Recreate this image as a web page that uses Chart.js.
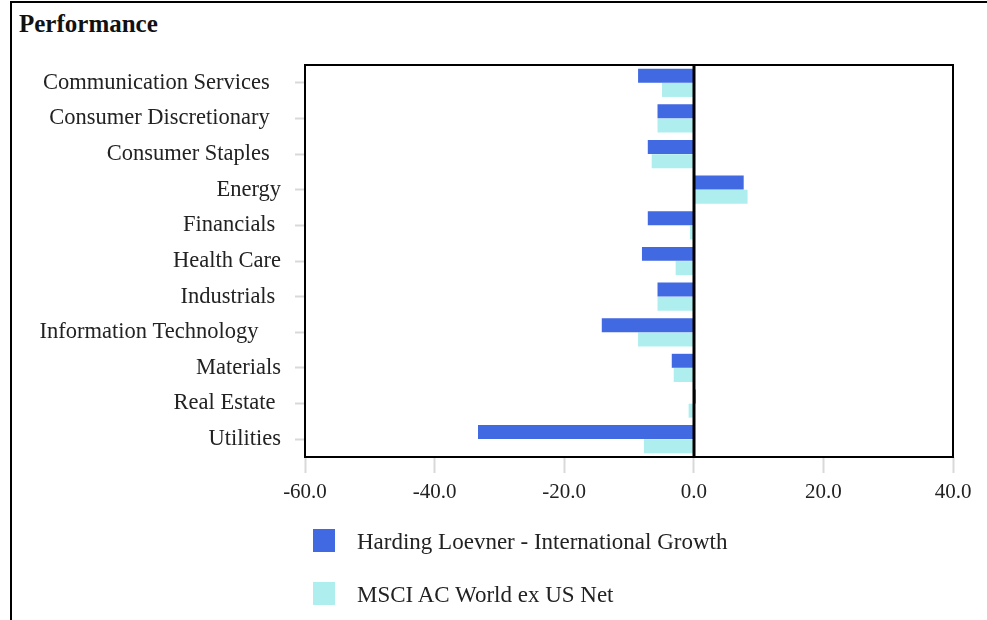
<!DOCTYPE html>
<html>
<head>
<meta charset="utf-8">
<script src="https://cdn.jsdelivr.net/npm/chart.js@4"></script>
<style>
  html, body { margin: 0; padding: 0; background: #fff; overflow: hidden; }
  body { width: 987px; height: 620px; position: relative; font-family: "Liberation Serif", "DejaVu Serif", serif; }
  #frame { position: absolute; left: 10px; top: 1px; width: 1000px; height: 700px; border: 2px solid #000; }
  #title { position: absolute; left: 19px; top: 10px; font-size: 25px; font-weight: bold; color: #111; }
  #wrap { position: absolute; left: 0; top: 0; width: 987px; height: 620px; }
  #legend { position: absolute; left: 313px; top: 529px; font-size: 23px; color: #222; }
  .item { position: relative; height: 24px; margin-bottom: 29px; }
  .box { position: absolute; left: 0; top: 0; width: 22px; height: 23px; }
  .lbl { position: absolute; left: 44px; top: 1px; line-height: 24px; white-space: nowrap; }
</style>
</head>
<body>
<div id="frame"></div>
<div id="title">Performance</div>
<div id="wrap"><canvas id="myChart" width="987" height="620"></canvas></div>
<div id="legend"></div>
<script>
// sectors (trailing spaces kept as in the source labels)
let sectors = [
  'Communication Services  ',
  'Consumer Discretionary  ',
  'Consumer Staples  ',
  'Energy',
  'Financials ',
  'Health Care',
  'Industrials ',
  'Information Technology    ',
  'Materials',
  'Real Estate ',
  'Utilities'
];
let hlGrowth = [-8.6, -5.6, -7.1, 7.7, -7.1, -8.0, -5.6, -14.2, -3.4, 0.3, -33.3];
let msciAcwx = [-4.9, -5.6, -6.5, 8.3, -0.6, -2.8, -5.6, -8.6, -3.1, -0.8, -7.7];
let xTicks = [-60, -40, -20, 0, 20, 40];

let seriesNames = ['Harding Loevner - International Growth', 'MSCI AC World ex US Net'];
let bgColors = ['#4169E1', '#AFEEEE'];

// frame round the plot + the zero line on top of the bars
const boxPlugin = {
  id: 'boxPlugin',
  afterDatasetsDraw(chart) {
    const a = chart.chartArea;
    const c = chart.ctx;
    const x0 = Math.round(chart.scales.x.getPixelForValue(0));
    c.save();
    c.strokeStyle = '#000';
    c.lineWidth = 2;
    c.strokeRect(a.left, a.top, a.right - a.left, a.bottom - a.top);
    c.lineWidth = 3;
    c.beginPath();
    c.moveTo(x0, a.top);
    c.lineTo(x0, a.bottom);
    c.stroke();
    c.restore();
  }
};

const ctx = document.getElementById('myChart').getContext('2d');
const myChart = new Chart(ctx, {
  type: 'bar',
  data: {
    labels: sectors,
    datasets: [
      { label: seriesNames[0], data: hlGrowth, backgroundColor: bgColors[0], borderWidth: 0,
        categoryPercentage: 0.8, barPercentage: 0.98 },
      { label: seriesNames[1], data: msciAcwx, backgroundColor: bgColors[1], borderWidth: 0,
        categoryPercentage: 0.8, barPercentage: 0.98 }
    ]
  },
  plugins: [boxPlugin],
  options: {
    indexAxis: 'y',
    responsive: false,
    animation: false,
    layout: { padding: { left: 0, top: 65, right: 34, bottom: 113 } },
    plugins: {
      legend: { display: false },
      tooltip: { enabled: false },
      title: { display: false }
    },
    scales: {
      x: {
        min: -60,
        max: 40,
        afterBuildTicks(scale) { scale.ticks = xTicks.map(v => ({ value: v })); },
        afterFit(scale) { scale.height = 50; },
        border: { display: false },
        grid: {
          drawOnChartArea: false,
          tickColor: '#d9d9d9',
          tickLength: 16,
          tickWidth: 2
        },
        ticks: {
          color: '#222',
          padding: 7,
          font: { family: 'Liberation Serif', size: 21 },
          callback: v => Number(v).toFixed(1)
        }
      },
      y: {
        afterFit(scale) { scale.width = 305; },
        border: { display: false },
        grid: {
          drawOnChartArea: false,
          offset: false,
          tickColor: '#d9d9d9',
          tickLength: 10,
          tickWidth: 2
        },
        ticks: {
          color: '#222',
          padding: 14,
          autoSkip: false,
          font: { family: 'Liberation Serif', size: 22.5 }
        }
      }
    }
  }
});

// legend built from the datasets
const legend = document.getElementById('legend');
myChart.data.datasets.forEach(ds => {
  const item = document.createElement('div');
  item.className = 'item';
  item.innerHTML = '<span class="box" style="background:' + ds.backgroundColor + '"></span>' +
    '<span class="lbl">' + ds.label + '</span>';
  legend.appendChild(item);
});
</script>
</body>
</html>
